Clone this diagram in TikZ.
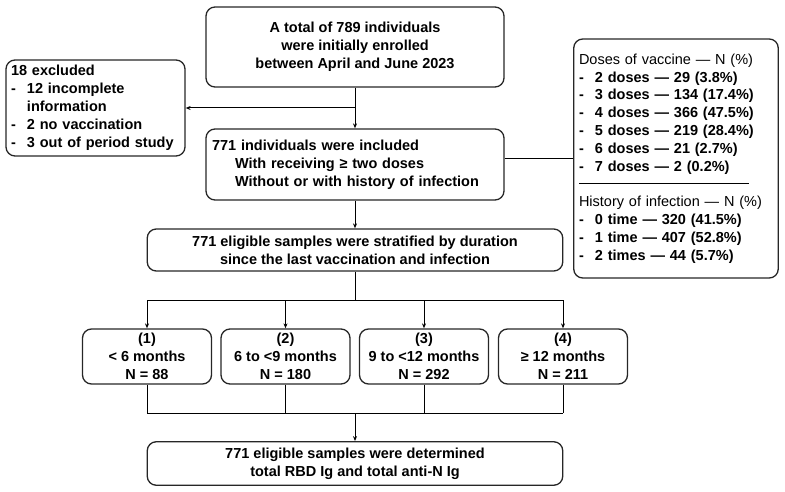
\documentclass[tikz,border=0pt]{standalone}
\usepackage{fontspec}
\setmainfont{Liberation Sans}
\usepackage{tikz}
\usetikzlibrary{arrows.meta}

\newcommand{\itm}{\makebox[16pt][l]{-}}

\tikzset{
  box/.style={draw=black!85, line width=1.3pt, rounded corners=9pt, inner sep=0pt,
    align=center, font=\fontsize{14.5}{18}\selectfont\bfseries},
  arr/.style={line width=1pt, -{Stealth[length=5pt,width=4pt]}},
  lnk/.style={line width=1pt}
}

\begin{document}
\begin{tikzpicture}[x=1pt,y=1pt,yscale=-1,xscale=1]
\useasboundingbox (0,0) rectangle (785,492);

%Shape: Rounded Rectangle [enrol]
\node (enrol) at (355,47) [box, minimum width=298pt, minimum height=80pt]
  {A total of 789 individuals\\ were initially enrolled\\ between April and June 2023};
%Shape: Rounded Rectangle [excl]
\node (excl) at (95.5,108) [box, minimum width=179pt, minimum height=96pt,
  text width=169pt, align=left]
  {18 excluded\\ \itm 12 incomplete\\ \hspace*{16pt}information\\ \itm 2 no vaccination\\ \itm 3 out of period study};
%Shape: Rounded Rectangle [incl]
\node (incl) at (355,164.5) [box, minimum width=298pt, minimum height=71pt,
  text width=286pt, align=left]
  {771 individuals were included\\ \hspace*{23pt}With receiving ≥ two doses\\ \hspace*{23pt}Without or with history of infection};
%Shape: Rounded Rectangle [dose]
\node (dose) at (676,158.5) [box, minimum width=204.5pt, minimum height=239pt,
  text width=194pt, align=left, font=\fontsize{14.5}{17.8}\selectfont\bfseries]
  {{\mdseries Doses of vaccine — N (\%)}\\ \itm 2 doses — 29 (3.8\%)\\ \itm 3 doses — 134 (17.4\%)\\
   \itm 4 doses — 366 (47.5\%)\\ \itm 5 doses — 219 (28.4\%)\\ \itm 6 doses — 21 (2.7\%)\\
   \itm 7 doses — 2 (0.2\%)\\ \rule[5pt]{170pt}{0.9pt}\\
   {\mdseries History of infection — N (\%)}\\ \itm 0 time — 320 (41.5\%)\\
   \itm 1 time — 407 (52.8\%)\\ \itm 2 times — 44 (5.7\%)};
%Shape: Rounded Rectangle [strat]
\node (strat) at (355,250) [box, minimum width=415.5pt, minimum height=42pt]
  {771 eligible samples were stratified by duration\\ since the last vaccination and infection};
%Shape: Rounded Rectangle [g1..g4]
\node (g1) at (147,356.5) [box, minimum width=129pt, minimum height=55pt] {(1)\\ < 6 months\\ N = 88};
\node (g2) at (285.5,356.5) [box, minimum width=129pt, minimum height=55pt] {(2)\\ 6 to <9 months\\ N = 180};
\node (g3) at (424,356.5) [box, minimum width=129pt, minimum height=55pt] {(3)\\ 9 to <12 months\\ N = 292};
\node (g4) at (563,356.5) [box, minimum width=129pt, minimum height=55pt] {(4)\\ ≥ 12 months\\ N = 211};
%Shape: Rounded Rectangle [final]
\node (final) at (355,463.5) [box, minimum width=415.5pt, minimum height=43.5pt]
  {771 eligible samples were determined\\ total RBD Ig and total anti-N Ig};

%Straight Lines
\coordinate (br) at (355,108);
\coordinate (split) at (355,300);
\coordinate (join) at (355,413);
\draw [arr] (enrol) -- (incl);
\draw [arr] (br) -- (excl.east |- br);
\draw [lnk] (incl.east |- dose.west) -- (dose.west);
\draw [arr] (incl) -- (strat);
\draw [lnk] (strat) -- (split);
\draw [lnk] (g1.north |- split) -- (g4.north |- split);
\foreach \g in {g1,g2,g3,g4} {
  \draw [arr] (\g.north |- split) -- (\g.north);
  \draw [lnk] (\g.south) -- (\g.south |- join);
}
\draw [lnk] (g1.south |- join) -- (g4.south |- join);
\draw [arr] (join) -- (final);

\end{tikzpicture}
\end{document}
